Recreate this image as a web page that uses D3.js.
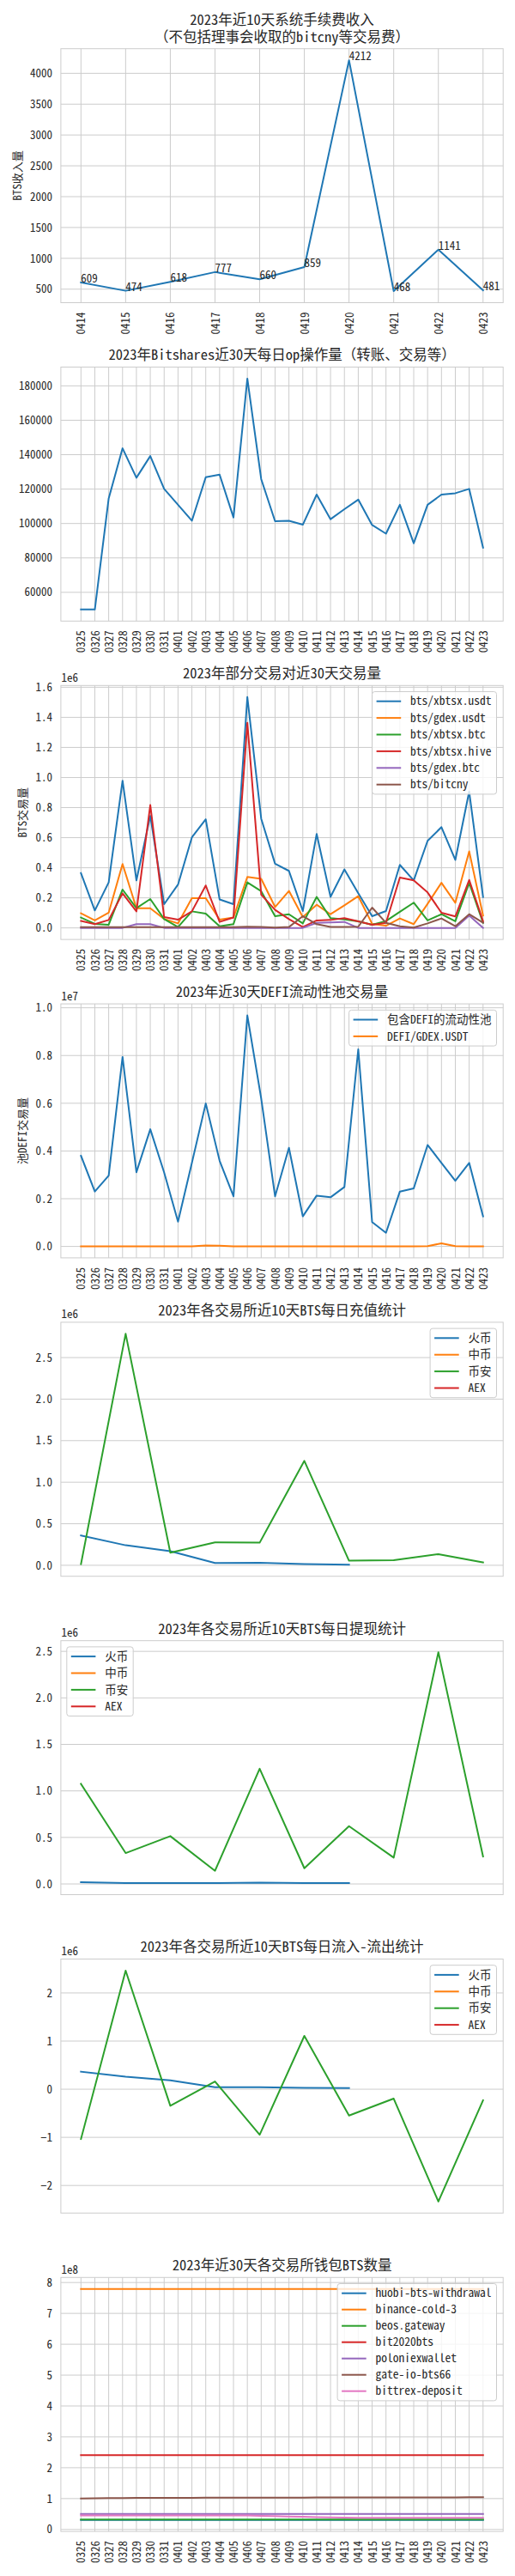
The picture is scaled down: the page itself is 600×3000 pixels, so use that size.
<!DOCTYPE html>
<html><head><meta charset="utf-8">
<script src="https://cdn.jsdelivr.net/npm/d3@7/dist/d3.min.js"></script>
<style>
body{margin:0;background:#fff;}
svg text{font-family:"Noto Sans Mono CJK SC","Noto Sans CJK SC",sans-serif;fill:#262626;}
</style></head><body>
<svg id="c" width="600" height="3000"></svg>
<script>
// ---------------- DATA ----------------
const days10 = ["0414","0415","0416","0417","0418","0419","0420","0421","0422","0423"];
const days30 = ["0325","0326","0327","0328","0329","0330","0331","0401","0402","0403","0404","0405","0406","0407","0408","0409","0410","0411","0412","0413","0414","0415","0416","0417","0418","0419","0420","0421","0422","0423"];

const feeIncome = [609,474,618,777,660,859,4212,468,1141,481];
const feeTicks = [500,1000,1500,2000,2500,3000,3500,4000];

const opCount = [50000,50000,114600,143700,126600,139200,120100,110900,101600,126900,128400,103500,184200,125800,101300,101600,99300,116800,102500,108300,113900,99100,94100,110900,88500,110900,116800,117600,120100,86000];
const opTicks = [60000,80000,100000,120000,140000,160000,180000];

const pairNames = ["bts/xbtsx.usdt","bts/gdex.usdt","bts/xbtsx.btc","bts/xbtsx.hive","bts/gdex.btc","bts/bitcny"];
const pairXbtsxUsdt = [364000,116000,303000,979000,316000,745000,158000,288000,602000,722000,189000,158000,1535000,726000,427000,379000,112000,625000,206000,389000,230000,78000,112000,419000,316000,579000,670000,452000,907000,205000];
const pairGdexUsdt = [97000,50000,101000,425000,131000,131000,59000,30000,198000,198000,55000,69000,339000,326000,139000,246000,72000,154000,91000,150000,211000,27000,15000,63000,25000,160000,300000,167000,509000,82000];
const pairXbtsxBtc = [69000,27000,21000,255000,131000,192000,59000,6000,110000,95000,11000,25000,303000,244000,78000,91000,30000,206000,65000,57000,44000,21000,46000,107000,168000,50000,91000,44000,300000,34000];
const pairXbtsxHive = [46000,25000,53000,230000,110000,817000,72000,55000,110000,282000,40000,69000,1364000,221000,120000,59000,6000,50000,53000,65000,44000,21000,34000,335000,316000,236000,101000,76000,319000,44000];
const pairGdexBtc = [0,0,0,0,25000,25000,0,0,0,0,0,0,0,0,0,0,0,34000,36000,40000,0,0,0,0,0,0,0,0,82000,0];
const pairBitcny = [5000,5000,5000,5000,5000,5000,5000,5000,5000,5000,5000,5000,8000,6000,2000,6000,78000,25000,6000,6000,8000,135000,34000,11000,2000,30000,63000,11000,91000,34000];
const pairTicks = [0,200000,400000,600000,800000,1000000,1200000,1400000,1600000];

const defiNames = ["包含DEFI的流动性池","DEFI/GDEX.USDT"];
const defiPool = [3800000,2300000,2970000,7940000,3110000,4910000,3100000,1040000,3500000,5990000,3590000,2100000,9680000,6200000,2100000,4130000,1260000,2130000,2060000,2490000,8260000,1020000,570000,2300000,2430000,4250000,3500000,2750000,3500000,1260000];
const defiGdexUsdt = [5000,5000,5000,5000,5000,5000,5000,5000,5000,40000,30000,5000,5000,5000,5000,5000,5000,5000,5000,5000,5000,5000,5000,5000,5000,10000,130000,10000,5000,5000];
const defiTicks = [0,2000000,4000000,6000000,8000000,10000000];

const exchangeNames = ["火币","中币","币安","AEX"];
const depHuobi = [358000,241000,169000,28000,31000,14000,7000,null,null,null];
const depZB = [null,null,null,null,null,null,null,null,null,null];
const depBinance = [14000,2786000,152000,275000,272000,1257000,55000,62000,134000,34000];
const depAEX = [null,null,null,null,null,null,null,null,null,null];
const depTicks = [0,500000,1000000,1500000,2000000,2500000];

const wdHuobi = [18000,9000,9000,9000,15000,9000,9000,null,null,null];
const wdZB = [null,null,null,null,null,null,null,null,null,null];
const wdBinance = [1076000,332000,514000,141000,1239000,169000,621000,283000,2491000,295000];
const wdAEX = [null,null,null,null,null,null,null,null,null,null];
const wdTicks = [0,500000,1000000,1500000,2000000,2500000];

const netHuobi = [363000,262000,185000,42000,42000,30000,24000,null,null,null];
const netZB = [null,null,null,null,null,null,null,null,null,null];
const netBinance = [-1036000,2464000,-345000,161000,-946000,1107000,-548000,-196000,-2333000,-232000];
const netAEX = [null,null,null,null,null,null,null,null,null,null];
const netTicks = [-2000000,-1000000,0,1000000,2000000];

const walletNames = ["huobi-bts-withdrawal","binance-cold-3","beos.gateway","bit2020bts","poloniexwallet","gate-io-bts66","bittrex-deposit"];
const walletHuobi = [31000000,31000000,31000000,31000000,31000000,31000000,31000000,31000000,31000000,31000000,31000000,31000000,31000000,31000000,31000000,31000000,31000000,31000000,31000000,31000000,31000000,31000000,31000000,31000000,31000000,31000000,31000000,31000000,31000000,31000000];
const walletBinance = [779000000,779000000,779000000,779000000,779000000,779000000,779000000,779000000,779000000,779000000,779000000,779000000,779000000,779000000,779000000,779000000,779000000,779000000,779000000,779000000,779000000,779000000,779000000,779000000,779000000,779000000,779000000,779000000,779000000,779000000];
const walletBeos = [32000000,32000000,32000000,32000000,32000000,32000000,32000000,32000000,32000000,32000000,32000000,32000000,32000000,32000000,32000000,32000000,32000000,32000000,32000000,32000000,32000000,32000000,32000000,32000000,32000000,32000000,32000000,32000000,32000000,32000000];
const walletBit2020 = [241000000,241000000,241000000,241000000,241000000,241000000,241000000,241000000,241000000,241000000,241000000,241000000,241000000,241000000,241000000,241000000,241000000,241000000,241000000,241000000,241000000,241000000,241000000,241000000,241000000,241000000,241000000,241000000,241000000,241000000];
const walletPoloniex = [50000000,50000000,50000000,50000000,50000000,50000000,50000000,50000000,50000000,50000000,50000000,50000000,50000000,50000000,50000000,50000000,50000000,50000000,50000000,50000000,50000000,50000000,50000000,50000000,50000000,50000000,50000000,50000000,50000000,50000000];
const walletGate = [100000000,101000000,101500000,102000000,102200000,102400000,102500000,102600000,102700000,102800000,102900000,103000000,103100000,103100000,103200000,103300000,103400000,103500000,103500000,103600000,103700000,103800000,103800000,103900000,104000000,104000000,104100000,104100000,104200000,104200000];
const walletBittrex = [45000000,45000000,45000000,45000000,45000000,45000000,45000000,45000000,45000000,45000000,45000000,45000000,45000000,44000000,43000000,42000000,41000000,40000000,39000000,38500000,38000000,38000000,38000000,38000000,38000000,38000000,38000000,38000000,38000000,38000000];
const walletTicks = [0,100000000,200000000,300000000,400000000,500000000,600000000,700000000,800000000];

// ---------------- STYLE / LAYOUT ----------------
const C = ["#1f77b4","#ff7f0e","#2ca02c","#d62728","#9467bd","#8c564b","#e377c2"];
const INK = "#262626", GRID = "#cccccc";
const L = 70.9, R = 586.2, H = 295.8, TOP0 = 56.7, STEP = 370.8;
const FS = 13, TFS = 16.5, LFS = 13.5;
const svg = d3.select("#c");

const fmt = {
  int: d3.format("d"),
  e6: v => (v/1e6).toFixed(1),
  e7: v => (v/1e7).toFixed(1),
  e6i: v => { const t = Math.round(v/1e6); return t < 0 ? "\u2212" + Math.abs(t) : String(t); },
  e8: v => String(Math.round(v/1e8))
};

function panel(idx, cfg){
  const top = TOP0 + idx*STEP, bottom = top + H;
  const g = svg.append("g");
  const n = cfg.cats.length;
  const x = d3.scalePoint().domain(cfg.cats).range([L, R]).padding(0.05*(n-1));
  const all = cfg.series.flatMap(s => s.values).filter(v => v != null);
  const lo = d3.min(all), hi = d3.max(all), m = (hi - lo)*0.05;
  const y = d3.scaleLinear().domain([lo - m, hi + m]).range([bottom, top]);

  // grid
  g.append("g").selectAll("line").data(cfg.yTicks).join("line")
    .attr("x1", L).attr("x2", R).attr("y1", d => y(d)).attr("y2", d => y(d))
    .attr("stroke", GRID).attr("stroke-width", 1);
  if (cfg.vgrid) {
    g.append("g").selectAll("line").data(cfg.cats).join("line")
      .attr("x1", d => x(d)).attr("x2", d => x(d)).attr("y1", top).attr("y2", bottom)
      .attr("stroke", GRID).attr("stroke-width", 1);
  }

  // y axis
  const ya = g.append("g").attr("transform", `translate(${L},0)`)
    .call(d3.axisLeft(y).tickValues(cfg.yTicks).tickSize(0).tickPadding(10).tickFormat(cfg.yFmt));
  ya.select(".domain").remove();
  ya.selectAll("text").attr("font-size", FS);

  // x axis
  if (cfg.xLabels) {
    const xa = g.append("g").attr("transform", `translate(0,${bottom})`)
      .call(d3.axisBottom(x).tickSize(0));
    xa.select(".domain").remove();
    xa.selectAll("text").attr("font-size", FS)
      .attr("transform", "rotate(-90)").attr("x", -11).attr("y", 0).attr("dy", "0.35em")
      .style("text-anchor", "end");
  }

  // lines
  const line = d3.line().defined(d => d.v != null).x(d => x(d.c)).y(d => y(d.v));
  cfg.series.forEach(s => {
    const pts = cfg.cats.map((c, i) => ({c, v: s.values[i]}));
    g.append("path").attr("d", line(pts)).attr("fill", "none")
      .attr("stroke", s.color).attr("stroke-width", 2)
      .attr("stroke-linejoin", "round").attr("stroke-linecap", "square");
  });

  // annotations
  if (cfg.annotate) {
    const s = cfg.series[0];
    g.append("g").selectAll("text").data(cfg.cats).join("text")
      .attr("x", d => x(d)).attr("y", (d, i) => y(s.values[i]))
      .attr("font-size", FS).text((d, i) => s.values[i]);
  }

  // spines
  g.append("rect").attr("x", L).attr("y", top).attr("width", R - L).attr("height", H)
    .attr("fill", "none").attr("stroke", GRID).attr("stroke-width", 1);

  // title
  const tl = cfg.title;
  tl.forEach((t, i) => {
    g.append("text").attr("x", (L + R)/2).attr("y", top - 13.8 - (tl.length - 1 - i)*20)
      .attr("dy", "0.35em").attr("text-anchor", "middle").attr("font-size", TFS).text(t);
  });

  // offset text
  if (cfg.offset) {
    g.append("text").attr("x", L + 0.5).attr("y", top - 4.5).attr("font-size", FS).text(cfg.offset);
  }

  // y label
  if (cfg.yLabel) {
    const bb = ya.node().getBBox();
    const cx = bb.x + L - 8 - FS/2;
    g.append("text").attr("transform", `translate(${cx},${(top + bottom)/2}) rotate(-90)`)
      .attr("dy", "0.35em").attr("text-anchor", "middle").attr("font-size", FS).text(cfg.yLabel);
  }

  // legend
  if (cfg.legend) {
    const lg = g.append("g");
    const sp = cfg.legendSpacing || 19.4;
    const texts = cfg.series.map((s, i) => lg.append("text").attr("font-size", LFS).attr("dy", "0.35em").text(s.name));
    const tw = d3.max(texts, t => t.node().getComputedTextLength());
    const bw = 5 + 28.6 + 10.8 + tw + 6;
    const bh = 22.4 + (cfg.series.length - 1)*sp;
    const bx = cfg.legend === "ur" ? R - 7.7 - bw : L + 6.9;
    const by = top + 7.2;
    lg.insert("rect", ":first-child").attr("x", bx).attr("y", by).attr("width", bw).attr("height", bh)
      .attr("rx", 3).attr("fill", "#fff").attr("fill-opacity", 0.8).attr("stroke", GRID).attr("stroke-width", 1);
    cfg.series.forEach((s, i) => {
      const ey = by + 11.2 + i*sp;
      lg.append("line").attr("x1", bx + 5).attr("x2", bx + 5 + 28.6).attr("y1", ey).attr("y2", ey)
        .attr("stroke", s.color).attr("stroke-width", 2);
      texts[i].attr("x", bx + 5 + 28.6 + 10.8).attr("y", ey);
    });
  }
}

panel(0, {
  cats: days10, title: ["2023年近10天系统手续费收入", "（不包括理事会收取的bitcny等交易费）"],
  series: [{name: "fee", values: feeIncome, color: C[0]}],
  yTicks: feeTicks, yFmt: fmt.int, vgrid: true, xLabels: true, yLabel: "BTS收入量", annotate: true
});
panel(1, {
  cats: days30, title: ["2023年Bitshares近30天每日op操作量（转账、交易等）"],
  series: [{name: "op", values: opCount, color: C[0]}],
  yTicks: opTicks, yFmt: fmt.int, vgrid: true, xLabels: true
});
panel(2, {
  cats: days30, title: ["2023年部分交易对近30天交易量"],
  series: [pairXbtsxUsdt, pairGdexUsdt, pairXbtsxBtc, pairXbtsxHive, pairGdexBtc, pairBitcny]
    .map((v, i) => ({name: pairNames[i], values: v, color: C[i]})),
  yTicks: pairTicks, yFmt: fmt.e6, vgrid: true, xLabels: true, yLabel: "BTS交易量", offset: "1e6", legend: "ur"
});
panel(3, {
  cats: days30, title: ["2023年近30天DEFI流动性池交易量"],
  series: [defiPool, defiGdexUsdt].map((v, i) => ({name: defiNames[i], values: v, color: C[i]})),
  yTicks: defiTicks, yFmt: fmt.e7, vgrid: true, xLabels: true, yLabel: "池DEFI交易量", offset: "1e7", legend: "ur"
});
panel(4, {
  cats: days10, title: ["2023年各交易所近10天BTS每日充值统计"],
  series: [depHuobi, depZB, depBinance, depAEX].map((v, i) => ({name: exchangeNames[i], values: v, color: C[i]})),
  yTicks: depTicks, yFmt: fmt.e6, vgrid: false, xLabels: false, offset: "1e6", legend: "ur"
});
panel(5, {
  cats: days10, title: ["2023年各交易所近10天BTS每日提现统计"],
  series: [wdHuobi, wdZB, wdBinance, wdAEX].map((v, i) => ({name: exchangeNames[i], values: v, color: C[i]})),
  yTicks: wdTicks, yFmt: fmt.e6, vgrid: false, xLabels: false, offset: "1e6", legend: "ul"
});
panel(6, {
  cats: days10, title: ["2023年各交易所近10天BTS每日流入-流出统计"],
  series: [netHuobi, netZB, netBinance, netAEX].map((v, i) => ({name: exchangeNames[i], values: v, color: C[i]})),
  yTicks: netTicks, yFmt: fmt.e6i, vgrid: false, xLabels: false, offset: "1e6", legend: "ur"
});
panel(7, {
  cats: days30, title: ["2023年近30天各交易所钱包BTS数量"],
  series: [walletHuobi, walletBinance, walletBeos, walletBit2020, walletPoloniex, walletGate, walletBittrex]
    .map((v, i) => ({name: walletNames[i], values: v, color: C[i]})),
  yTicks: walletTicks, yFmt: fmt.e8, vgrid: true, xLabels: true, offset: "1e8", legend: "ur", legendSpacing: 19
});
</script>
</body></html>
